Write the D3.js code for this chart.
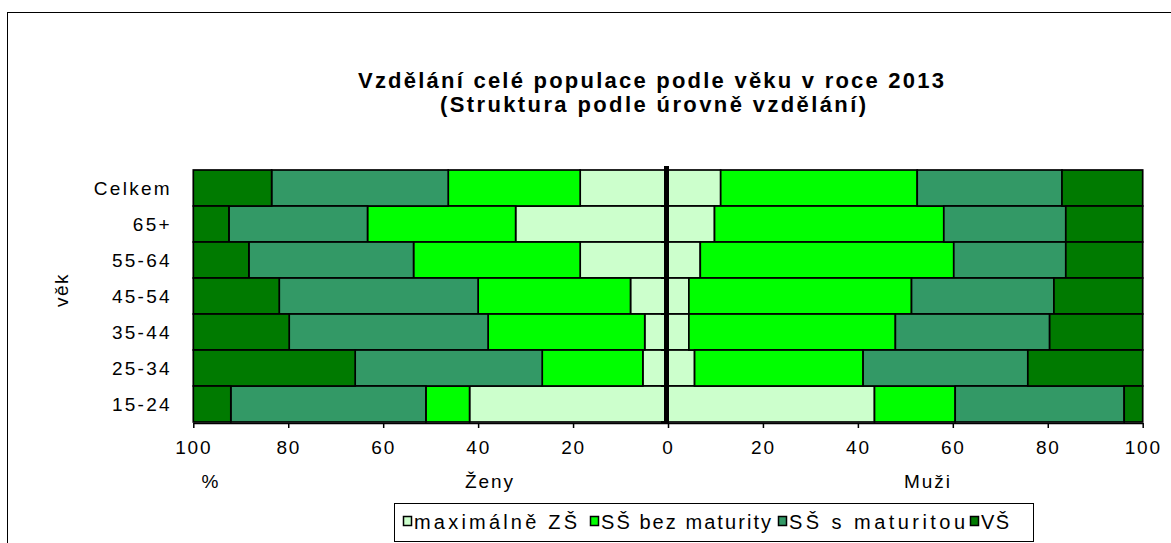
<!DOCTYPE html>
<html lang="cs">
<head>
<meta charset="UTF-8">
<title>Vzdělání celé populace podle věku v roce 2013</title>
<script src="https://d3js.org/d3.v7.min.js"></script>
<style>
    body { margin: 0; background: #fff; }
    svg { display: block; font-family: "Liberation Sans", Arial, sans-serif; }
    .bar { stroke: #000; stroke-width: 1.7; }
</style>
</head>
<body>
<svg id="chart" width="1171" height="543"></svg>
<script>
// categories (top to bottom)
const ageGroups = ["Celkem", "65+", "55-64", "45-54", "35-44", "25-34", "15-24"];
const levels = ["maximálně ZŠ", "SŠ bez maturity", "SŠ s maturitou", "VŠ"];
const colors = ["#CCFFCC", "#00FF00", "#339966", "#007A00"];

// women (%)
const zenyZS    = [18.5, 32.1, 18.5,  7.9,  4.9,  5.3, 41.8];
const zenyBez   = [27.8, 31.2, 35.1, 32.1, 33.0, 21.2,  9.2];
const zenyMat   = [37.2, 29.2, 34.7, 41.9, 41.9, 39.4, 41.1];
const zenyVS    = [16.5,  7.5, 11.7, 18.1, 20.2, 34.1,  7.9];

// men (%)
const muziZS    = [11.1,  9.8,  6.8,  4.4,  4.4,  5.6, 43.5];
const muziBez   = [41.4, 48.3, 53.4, 46.9, 43.5, 35.5, 17.0];
const muziMat   = [30.5, 25.7, 23.6, 30.0, 32.5, 34.7, 35.6];
const muziVS    = [17.0, 16.2, 16.2, 18.7, 19.6, 24.2,  3.9];

const xTicks = [-100, -80, -60, -40, -20, 0, 20, 40, 60, 80, 100];

const svg = d3.select("#chart");

// outer frame
svg.append("rect")
    .attr("x", 7.5).attr("y", 12.5)
    .attr("width", 1300).attr("height", 700)
    .attr("fill", "none").attr("stroke", "#000");

const x = d3.scaleLinear().domain([-100, 100]).range([193.3, 1142.7]);
const y = d3.scaleBand().domain(ageGroups).range([170, 422]).padding(0);

function rows(series) {
    return ageGroups.map((g, i) => {
        const r = { group: g };
        levels.forEach((k, j) => r[k] = series[j][i]);
        return r;
    });
}

const stack = d3.stack().keys(levels);
const sides = [
    { sign: -1, data: stack(rows([zenyZS, zenyBez, zenyMat, zenyVS])) },
    { sign: 1,  data: stack(rows([muziZS, muziBez, muziMat, muziVS])) }
];

sides.forEach(side => {
    svg.append("g").selectAll("g")
        .data(side.data)
        .join("g")
        .attr("fill", (d, i) => colors[i])
        .selectAll("rect")
        .data(d => d)
        .join("rect")
        .attr("class", "bar")
        .attr("x", d => Math.min(x(side.sign * d[0]), x(side.sign * d[1])))
        .attr("width", d => Math.abs(x(d[1]) - x(d[0])))
        .attr("y", d => y(d.data.group))
        .attr("height", y.bandwidth());
});

// x axis
const xAxis = svg.append("g")
    .attr("transform", "translate(0,423)")
    .call(d3.axisBottom(x).tickValues(xTicks).tickSize(5).tickSizeOuter(0)
        .tickPadding(13).tickFormat(d => Math.abs(d)));
xAxis.select(".domain").attr("stroke", "#000").attr("stroke-width", 1.7);
xAxis.selectAll("line").attr("stroke", "#000").attr("stroke-width", 1.5);
xAxis.selectAll("text")
    .attr("font-size", 19).attr("letter-spacing", 1.8).attr("fill", "#000")
    .attr("font-family", "Liberation Sans, Arial, sans-serif");

// central axis (thick)
svg.append("line")
    .attr("x1", x(0) - 1.5).attr("x2", x(0) - 1.5)
    .attr("y1", 166).attr("y2", 423)
    .attr("stroke", "#000").attr("stroke-width", 5);
svg.append("g").selectAll("line")
    .data(ageGroups.slice(1).concat(["end"]))
    .join("line")
    .attr("x1", x(0) - 7).attr("x2", x(0))
    .attr("y1", d => d === "end" ? 422 : y(d))
    .attr("y2", d => d === "end" ? 422 : y(d))
    .attr("stroke", "#000").attr("stroke-width", 2);

// y labels
svg.append("g").selectAll("text")
    .data(ageGroups)
    .join("text")
    .attr("x", 172)
    .attr("y", d => y(d) + y.bandwidth() / 2)
    .attr("dy", "0.36em")
    .attr("text-anchor", "end")
    .attr("font-size", 19)
    .attr("letter-spacing", 2.3)
    .text(d => d);

svg.append("text")
    .attr("transform", "translate(68,290) rotate(-90)")
    .attr("text-anchor", "middle")
    .attr("font-size", 19)
    .attr("letter-spacing", 1.5)
    .text("věk");

// title
svg.append("text")
    .attr("x", 358).attr("y", 88)
    .attr("font-size", 22).attr("font-weight", "bold")
    .attr("textLength", 586).attr("lengthAdjust", "spacing")
    .text("Vzdělání celé populace podle věku v roce 2013");
svg.append("text")
    .attr("x", 440).attr("y", 112)
    .attr("font-size", 22).attr("font-weight", "bold")
    .attr("textLength", 426).attr("lengthAdjust", "spacing")
    .text("(Struktura podle úrovně vzdělání)");

// axis captions
[["%", 211], ["Ženy", 490], ["Muži", 928]].forEach(([t, cx]) => {
    svg.append("text")
        .attr("x", cx).attr("y", 488)
        .attr("text-anchor", "middle")
        .attr("font-size", 19)
        .attr("letter-spacing", 2)
        .text(t);
});

// legend
const legend = svg.append("g");
legend.append("rect")
    .attr("x", 394.5).attr("y", 503.5)
    .attr("width", 639).attr("height", 38)
    .attr("fill", "#fff").attr("stroke", "#000");
const legendX = [403, 590, 778, 970];
const legendW = [163, 170, 176, null];
levels.forEach((k, i) => {
    legend.append("rect")
        .attr("x", legendX[i] + 0.5).attr("y", 516.5)
        .attr("width", 8).attr("height", 9)
        .attr("fill", colors[i]).attr("stroke", "#000").attr("stroke-width", 1.5);
    const t = legend.append("text")
        .attr("x", legendX[i] + 11).attr("y", 529)
        .attr("font-size", 20)
        .text(k);
    if (legendW[i]) t.attr("textLength", legendW[i]).attr("lengthAdjust", "spacing");
    else t.attr("letter-spacing", 1.5);
});
</script>
</body>
</html>
